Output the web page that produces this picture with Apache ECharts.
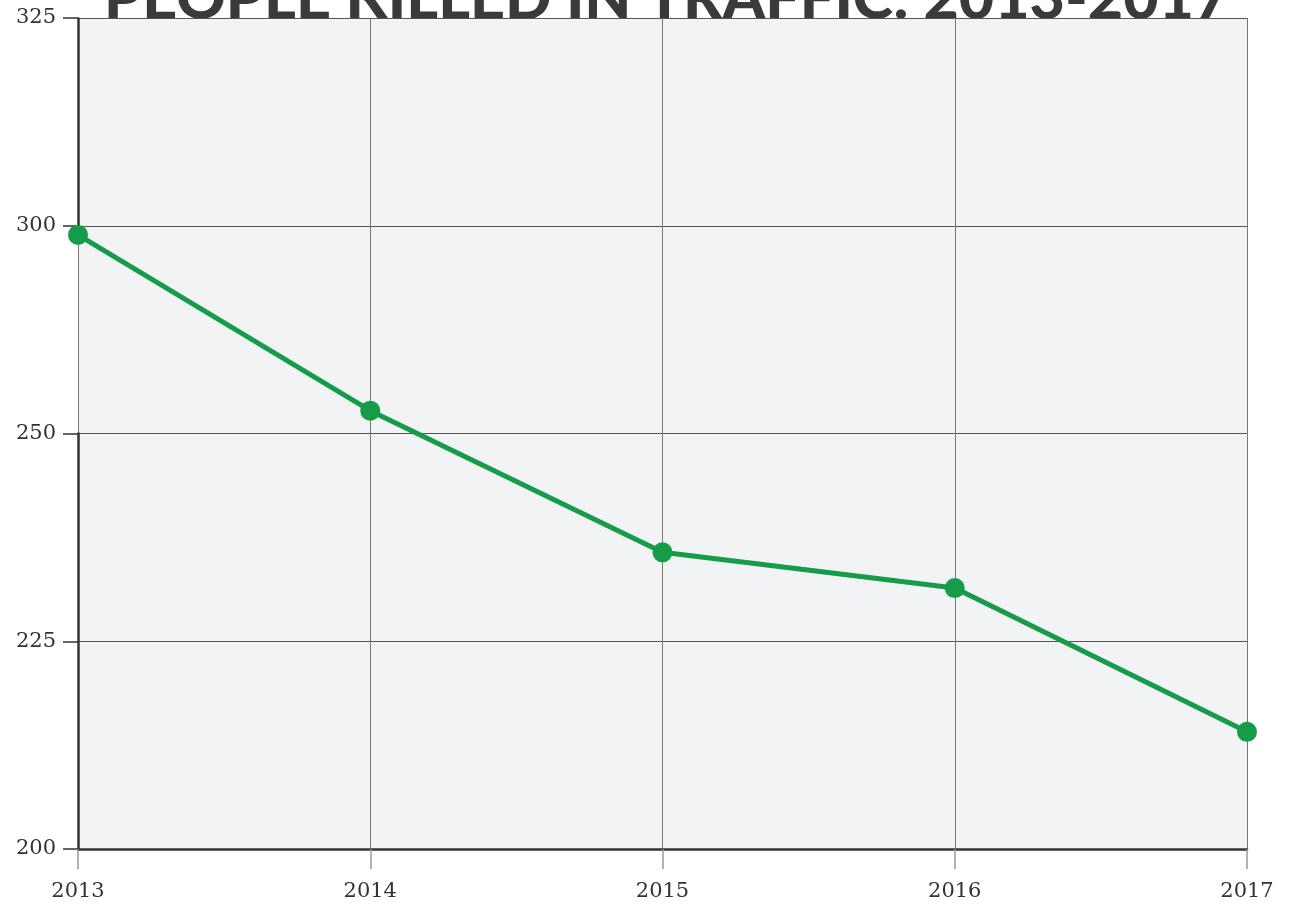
<!DOCTYPE html>
<html style="height: 100%">
<head>
<meta charset="utf-8">
<script src="https://cdn.jsdelivr.net/npm/echarts@6/dist/echarts.min.js"></script>
</head>
<body style="height: 100%; margin: 0; background: #fff">
<div id="container" style="width: 1289px; height: 909px"></div>
<script type="text/javascript">
var years = ['2013', '2014', '2015', '2016', '2017'];
var killed = [297.8, 255.5, 235.7, 231.4, 214.1];
var breakLines = [250, 300];   // grid lines at the edges of the squeezed 250-300 band
var titleText = 'PEOPLE KILLED IN TRAFFIC: 2013-2017';

var chart = echarts.init(document.getElementById('container'));
var option = {
    animation: false,
    title: {
        text: titleText,
        left: 99,
        top: -36,
        z: -1,
        textStyle: {
            fontFamily: 'Lato',
            fontWeight: 900,
            fontSize: 61,
            color: '#3a3a3a'
        }
    },
    grid: {
        left: 78, right: 42, top: 18, bottom: 60,
        show: true,
        backgroundColor: '#f2f3f5',
        borderWidth: 0
    },
    xAxis: {
        type: 'category',
        data: years,
        boundaryGap: false,
        axisLine: { lineStyle: { color: '#333', width: 2.5 } },
        axisTick: { length: 20, lineStyle: { color: '#999', width: 1.5 } },
        axisLabel: {
            margin: 32,
            fontFamily: 'DejaVu Serif',
            fontSize: 21,
            color: '#333'
        },
        splitLine: { show: true, lineStyle: { color: '#777', width: 1 } },
        z: 5
    },
    yAxis: {
        type: 'value',
        min: 200,
        max: 325,
        interval: 25,
        breaks: [{ start: 250, end: 300, gap: 25 }],
        breakArea: {
            show: false,
            zigzagAmplitude: 0,
            itemStyle: { color: 'transparent', borderColor: 'transparent', opacity: 0 }
        },
        axisLine: { show: true, lineStyle: { color: '#333', width: 2.5 } },
        axisTick: { show: true, length: 15, lineStyle: { color: '#333', width: 1.5 } },
        axisLabel: {
            margin: 22,
            fontFamily: 'DejaVu Serif',
            fontSize: 21,
            color: '#333'
        },
        splitLine: { show: true, lineStyle: { color: '#555', width: 1 } },
        z: 5
    },
    series: [{
        type: 'line',
        data: killed,
        symbol: 'circle',
        symbolSize: 20,
        lineStyle: { color: '#169b48', width: 5 },
        itemStyle: { color: '#169b48' },
        markLine: {
            silent: true,
            symbol: 'none',
            label: { show: false },
            lineStyle: { color: '#555', width: 1, type: 'solid' },
            z: 1,
            data: breakLines.map(function (v) { return { yAxis: v }; })
        },
        z: 10
    }]
};
chart.setOption(option);
</script>
</body>
</html>
